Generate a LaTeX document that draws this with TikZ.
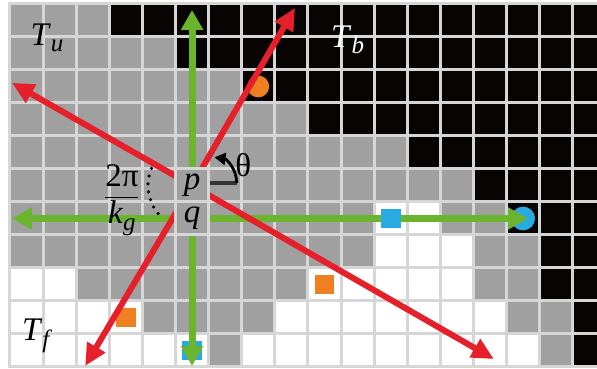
\documentclass[tikz,border=0pt]{standalone}
\usepackage{amsmath}
\usepackage{fontspec}
\setmainfont{Liberation Serif}
\usepackage{xcolor}
\usepackage{tikz}
\usetikzlibrary{arrows.meta, calc}
\definecolor{cellgray}{HTML}{A0A0A0}
\definecolor{cellblack}{HTML}{080404}
\definecolor{gridline}{HTML}{D6D6D6}
\definecolor{rayred}{HTML}{E6202A}
\definecolor{raygreen}{HTML}{6AB42E}
\definecolor{markcyan}{HTML}{2AAAE2}
\definecolor{markorange}{HTML}{EE8022}
\newcommand{\lowsub}[1]{\raisebox{-0.2em}{\fontsize{25}{27}\selectfont\textit{#1}}}

\begin{document}
\begin{tikzpicture}[x=33.1pt, y=33pt,
    lbl/.style={font=\fontsize{33}{35}\selectfont, inner sep=0pt},
    redray/.style={rayred, line width=6pt, -{Triangle[length=22pt, width=20pt]}},
    greenray/.style={raygreen, line width=7pt, -{Triangle[length=20pt, width=21pt]}},
    pqcell/.style={lbl, fill=cellgray, draw=gridline, line width=3pt,
        minimum width=33.1pt, minimum height=33pt}]
    \useasboundingbox (-0.302, 0.121) rectangle (17.734, -11.06);
    \clip (-0.302, 0.121) rectangle (17.734, -11.06);
    \fill[white] (-0.302, 0.121) rectangle (17.734, -11.06);

    % 栅格
    \foreach \r/\a/\b/\c in {
        0/0/2/cellgray, 0/3/17/cellblack,
        1/0/4/cellgray, 1/5/17/cellblack,
        2/0/6/cellgray, 2/7/17/cellblack,
        3/0/8/cellgray, 3/9/17/cellblack,
        4/0/11/cellgray, 4/12/17/cellblack,
        5/0/13/cellgray, 5/14/17/cellblack,
        6/0/10/cellgray, 6/13/14/cellgray, 6/15/17/cellblack,
        7/0/10/cellgray, 7/14/15/cellgray, 7/16/17/cellblack,
        8/2/8/cellgray, 8/14/15/cellgray, 8/16/17/cellblack,
        9/4/7/cellgray, 9/15/16/cellgray, 9/17/17/cellblack,
        10/6/6/cellgray, 10/16/16/cellgray, 10/17/17/cellblack}
        \fill[\c] (\a, -\r) rectangle (\b+1, -\r-1);
    \foreach \i in {0,...,18}
        \draw[gridline, line width=3pt, line cap=rect] (\i, 0) -- (\i, -11);
    \foreach \j in {0,...,11}
        \draw[gridline, line width=3pt, line cap=rect] (0, -\j) -- (18, -\j);

    % 标记
    \fill[markorange] (7.5, -2.5) circle (0.33);
    \fill[markorange] (9.2, -8.8) rectangle (9.8, -8.2);
    \fill[markorange] (3.2, -9.8) rectangle (3.8, -9.2);
    \fill[markcyan] (5.2, -10.8) rectangle (5.8, -10.2);
    \fill[markcyan] (15.5, -6.5) circle (0.36);

    % 射线
    \coordinate (p) at (5.5, -5.5);
    \coordinate (q) at (5.5, -6.5);
    \coordinate (gtop) at (5.5, -0.18);
    \coordinate (gbot) at (5.5, -10.97);
    \coordinate (gleft) at (0.06, -6.5);
    \coordinate (gright) at (15.65, -6.5);
    \draw[greenray] (q) -- (gtop);
    \draw[greenray] (q) -- (gbot);
    \draw[greenray] (q) -- (gleft);
    \draw[greenray] (q) -- (gright);
    \coordinate (rtop) at (8.61, -0.12);
    \coordinate (rleft) at (0.06, -2.39);
    \coordinate (rbot) at (2.27, -10.97);
    \coordinate (rright) at (14.62, -10.76);
    \draw[redray] (p) -- (rtop);
    \draw[redray] (p) -- (rleft);
    \draw[redray] (p) -- (rbot);
    \draw[redray] (p) -- (rright);
    \fill[markcyan] (11.2, -6.8) rectangle (11.8, -6.2);

    % p, q
    \node[pqcell] (pbox) at (p) {\textit{p}};
    \node[pqcell] (qbox) at (q) {\textit{q}};

    % 角度
    \coordinate (th) at (6.85, -5.42);
    \draw[black!80, line width=4pt] (pbox.east |- th) -- (th);
    \draw[black, line width=2.8pt, -{Triangle[length=11pt, width=12pt]}]
        (th) arc[start angle=0, end angle=82, radius=0.78];
    \node[lbl] (theta) at (7.05, -4.88) {θ};
    \draw[black, line width=3.5pt, dash pattern=on 0pt off 8pt, line cap=round]
        ($(p)+(157:1.33)$) arc[start angle=157, end angle=221, radius=1.33];
    \node[lbl] (kg) at (3.38, -5.94)
        {$\dfrac{\text{2π}}{\text{\textit{k}\lowsub{g}}}$};

    % 区域
    \node[lbl] (Tu) at (1.12, -1.03) {\textit{T}\lowsub{u}};
    \node[lbl, text=white] (Tb) at (10.2, -1.09) {\textit{T}\lowsub{b}};
    \node[lbl] (Tf) at (0.82, -10.05) {\textit{T}\lowsub{f}};
\end{tikzpicture}
\end{document}
